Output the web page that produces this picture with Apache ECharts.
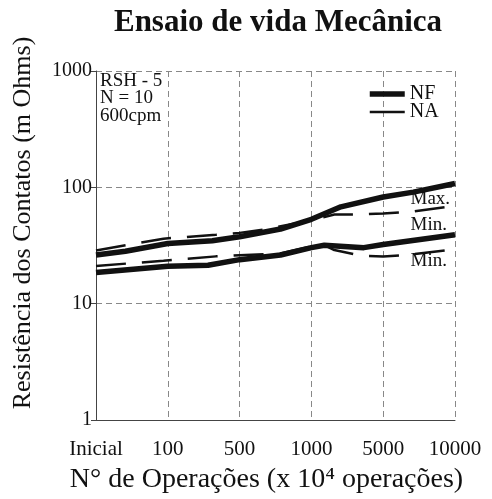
<!DOCTYPE html>
<html>
<head>
<meta charset="utf-8">
<script src="https://cdn.jsdelivr.net/npm/echarts@6/dist/echarts.min.js"></script>
<style>
html,body{margin:0;padding:0;background:#fff;}
#chart{width:492px;height:499px;}
</style>
</head>
<body>
<div id="chart"></div>
<script>
// Categories on the x axis (x values below are positions in category index units)
const categories = ['Inicial', '100', '500', '1000', '5000', '10000'];
const yTicks = [1, 10, 100, 1000];

// NF (thick solid) maximum
const nfMaxX = [0, 0.41, 1, 1.62, 2, 2.57, 3, 3.41, 4, 4.42, 5];
const nfMaxY = [26.2, 28.2, 32.9, 34.8, 37.6, 43.8, 53.1, 68, 82.5, 90.9, 108];
// NF minimum
const nfMinX = [0, 1, 1.56, 2, 2.57, 3, 3.18, 3.73, 4, 5];
const nfMinY = [18.5, 21.0, 21.4, 23.9, 26.2, 30.3, 31.8, 30.3, 32.2, 39.1];
// NA (dashed) maximum
const naMaxX = [0, 0.94, 1.67, 2, 2.38, 3, 3.32, 3.68, 4, 4.42, 5];
const naMaxY = [28.7, 36.2, 39.1, 40.6, 43.8, 52, 58.4, 58.4, 59.6, 61.9, 69.5];
// NA minimum
const naMinX = [0, 0.94, 1.67, 2, 2.57, 3, 3.18, 3.32, 3.68, 4, 4.33, 5];
const naMinY = [21.1, 23.4, 25.5, 26.1, 27.0, 31.0, 31.8, 28.9, 25.9, 25.4, 26.2, 29.4];

// Curve annotations (data coordinates)
const noteText = ['Max.', 'Min.', 'Min.'];
const noteX = [4.38, 4.38, 4.38];
const noteY = [80, 47.3, 23.3];

const infoLines = ['RSH - 5', 'N = 10', '600cpm'];

const zip = (xs, ys) => xs.map((x, i) => [x, ys[i]]);
const SERIF = '"Liberation Serif", "Times New Roman", "DejaVu Serif", serif';

const chart = echarts.init(document.getElementById('chart'), null, {renderer: 'canvas'});

const nfStyle = {color: '#111', width: 5.5, type: 'solid', cap: 'butt', join: 'round'};
const naStyle = {color: '#111', width: 2.5, type: [30, 16], cap: 'butt'};

const option = {
  backgroundColor: '#fff',
  animation: false,
  graphic: [
    {
      type: 'text',
      x: 278, y: 23,
      style: {
        text: 'Ensaio de vida Mecânica',
        font: 'bold 31px ' + SERIF,
        fill: '#111',
        align: 'center',
        verticalAlign: 'middle'
      }
    },
    {
      type: 'text',
      x: 100, y: 72,
      z: 10,
      style: {
        text: infoLines.join('\n'),
        font: '19px ' + SERIF,
        lineHeight: 17.5,
        fill: '#111',
        align: 'left',
        verticalAlign: 'top'
      }
    }
  ],
  legend: {
    data: [
      {name: 'NF', lineStyle: {width: 5.5, type: 'solid'}},
      {name: 'NA', lineStyle: {width: 2.5, type: 'solid'}}
    ],
    orient: 'vertical',
    left: 367,
    top: 84,
    padding: 0,
    itemWidth: 35,
    itemHeight: 14,
    itemGap: -2,
    selectedMode: false,
    itemStyle: {opacity: 0},
    textStyle: {fontFamily: SERIF, fontSize: 20, color: '#111', lineHeight: 14}
  },
  grid: {left: 96, right: 37, top: 71, bottom: 73, containLabel: false},
  xAxis: {
    type: 'value',
    min: 0,
    max: categories.length - 1,
    interval: 1,
    axisLine: {show: true, onZero: false, lineStyle: {color: '#444', width: 1}},
    axisTick: {show: false},
    splitLine: {show: true, lineStyle: {color: '#888', width: 1, type: [6, 4]}},
    axisLabel: {
      formatter: v => categories[Math.round(v)] ?? '',
      fontFamily: SERIF, fontSize: 21, color: '#111', margin: 19
    },
    name: 'N° de Operações (x 10⁴ operações)',
    nameLocation: 'middle',
    nameGap: 46,
    nameTextStyle: {fontFamily: SERIF, fontSize: 28, color: '#111', padding: [0, 18, 0, 0]}
  },
  yAxis: {
    type: 'log',
    logBase: 10,
    min: yTicks[0],
    max: yTicks[yTicks.length - 1],
    axisLine: {show: true, lineStyle: {color: '#444', width: 1}},
    axisTick: {show: true, length: 5, lineStyle: {color: '#444'}},
    minorTick: {show: false},
    splitLine: {show: true, lineStyle: {color: '#888', width: 1, type: [6, 4]}},
    axisLabel: {fontFamily: SERIF, fontSize: 20, color: '#111', margin: 4, formatter: v => String(v)},
    name: 'Resistência dos Contatos (m Ohms)',
    nameLocation: 'middle',
    nameGap: 60,
    nameTextStyle: {fontFamily: SERIF, fontSize: 26, color: '#111', padding: [0, 0, 0, 45]}
  },
  series: [
    {name: 'NF', type: 'line', data: zip(nfMaxX, nfMaxY), symbol: 'none', lineStyle: nfStyle, itemStyle: {color: '#111'}, z: 2},
    {name: 'NF', type: 'line', data: zip(nfMinX, nfMinY), symbol: 'none', lineStyle: nfStyle, itemStyle: {color: '#111'}, z: 2},
    {name: 'NA', type: 'line', data: zip(naMaxX, naMaxY), symbol: 'none', lineStyle: naStyle, itemStyle: {color: '#111'}, z: 3,
      markPoint: {
        symbol: 'circle', symbolSize: 0, silent: true,
        label: {
          show: true, position: [0, 0], align: 'left', verticalAlign: 'middle',
          fontFamily: SERIF, fontSize: 19, color: '#111',
          formatter: p => p.name
        },
        data: noteText.map((t, i) => ({name: t, coord: [noteX[i], noteY[i]]}))
      }
    },
    {name: 'NA', type: 'line', data: zip(naMinX, naMinY), symbol: 'none', lineStyle: naStyle, itemStyle: {color: '#111'}, z: 3}
  ]
};
chart.setOption(option);
</script>
</body>
</html>
